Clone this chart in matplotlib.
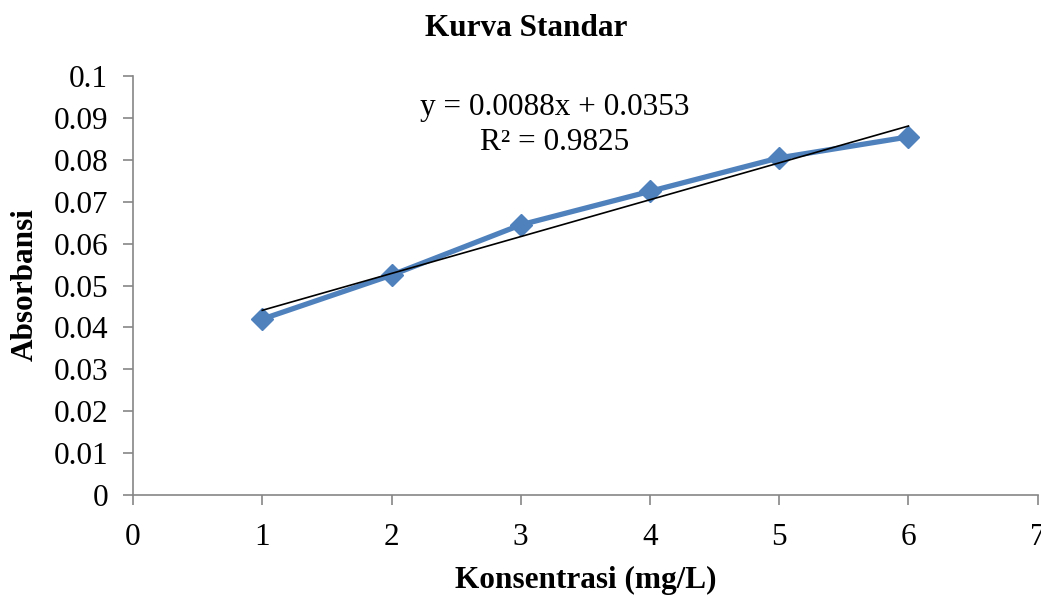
import matplotlib
matplotlib.use('Agg')
import matplotlib.pyplot as plt

konsentrasi = [1, 2, 3, 4, 5, 6]
absorbansi = [0.042, 0.0525, 0.0645, 0.0725, 0.0805, 0.0855]
slope = 0.0088
intercept = 0.0353
r2 = 0.9825

plt.rcParams['font.family'] = ['Liberation Serif', 'DejaVu Serif']

fig = plt.figure(figsize=(10.41, 5.95), dpi=100)
ax = fig.add_axes([0.1278, 0.168, 0.869, 0.704])

ax.plot(konsentrasi, absorbansi, color='#4F81BD', linewidth=3.8,
        marker='D', markersize=11, zorder=2)
trend = [slope * x + intercept for x in konsentrasi]
ax.plot([konsentrasi[0], konsentrasi[-1]], [trend[0], trend[-1]],
        color='black', linewidth=1.2, zorder=3)

ax.text(3.26, 0.0926, f'y = {slope}x + {intercept}', ha='center', va='center', fontsize=22.5)
ax.text(3.26, 0.0842, f'R² = {r2}', ha='center', va='center', fontsize=22.5)

ax.set_xlim(0, 7)
ax.set_ylim(0, 0.1)
ax.set_xticks(range(0, 8))
ax.set_yticks([i / 100 for i in range(0, 11)])
ax.set_yticklabels(['0', '0.01', '0.02', '0.03', '0.04', '0.05', '0.06',
                    '0.07', '0.08', '0.09', '0.1'])

for s in ['top', 'right']:
    ax.spines[s].set_visible(False)
for s in ['left', 'bottom']:
    ax.spines[s].set_color('#868686')
    ax.spines[s].set_linewidth(1.2)
ax.tick_params(colors='#868686', labelcolor='black', labelsize=22.5,
               length=7, width=1.2, direction='out')
ax.tick_params(axis='x', pad=13)
ax.tick_params(axis='y', pad=11)

fig.text(526 / 1041, 1 - 29 / 595, 'Kurva Standar', fontsize=22.5,
         fontweight='bold', ha='center', va='center')
fig.text(586 / 1041, 1 - 580 / 595, 'Konsentrasi (mg/L)', fontsize=22.5,
         fontweight='bold', ha='center', va='center')
fig.text(25 / 1041, 1 - 285 / 595, 'Absorbansi', fontsize=22.5,
         fontweight='bold', ha='center', va='center', rotation=90)

fig.savefig('out.png', dpi=100)
